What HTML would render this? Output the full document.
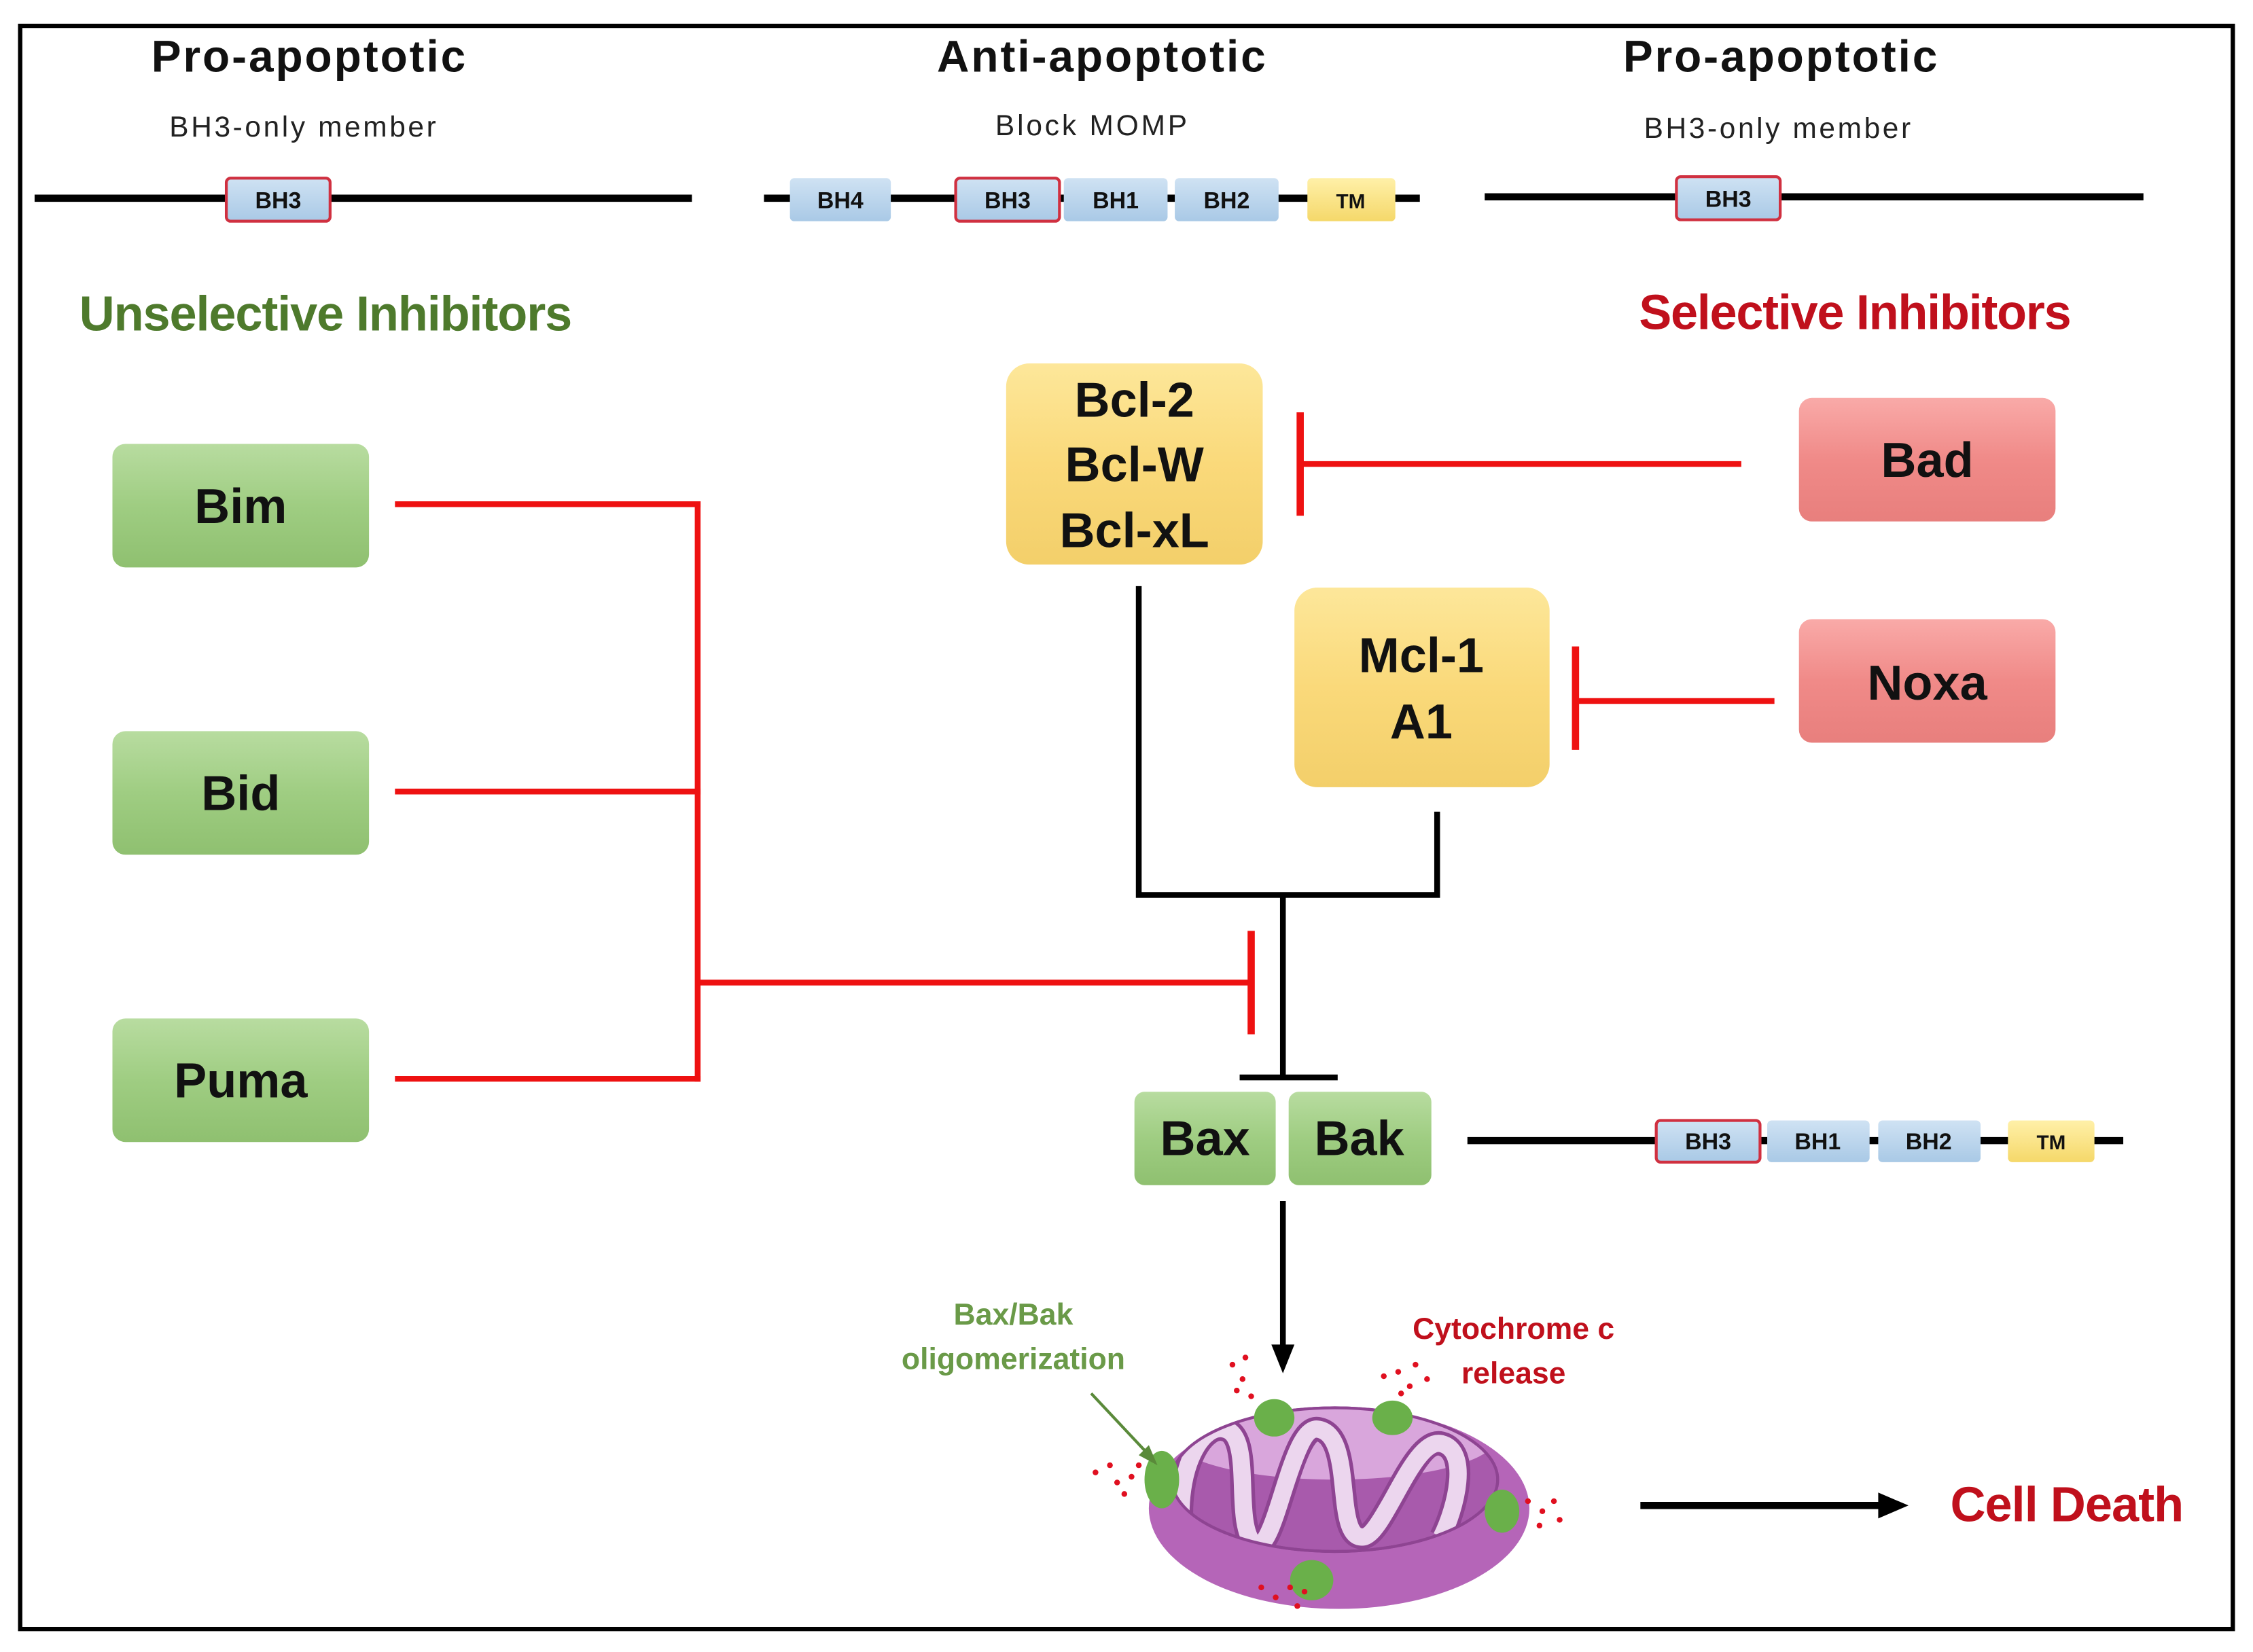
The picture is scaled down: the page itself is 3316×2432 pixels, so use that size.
<!DOCTYPE html>
<html><head><style>
html,body{margin:0;padding:0;background:#fff;}
svg{display:block;}
text{font-family:"Liberation Sans Narrow","Liberation Sans",sans-serif;font-weight:bold;}
</style></head><body>
<svg width="3316" height="2432" viewBox="0 0 1563 1150" preserveAspectRatio="none" xmlns="http://www.w3.org/2000/svg">
<defs>
<linearGradient id="g" x1="0" y1="0" x2="0" y2="1"><stop offset="0" stop-color="#b8dca0"/><stop offset="0.5" stop-color="#9fcd82"/><stop offset="1" stop-color="#8fc070"/></linearGradient>
<linearGradient id="y" x1="0" y1="0" x2="0" y2="1"><stop offset="0" stop-color="#fde79a"/><stop offset="0.5" stop-color="#fad97a"/><stop offset="1" stop-color="#f3cf6a"/></linearGradient>
<linearGradient id="r" x1="0" y1="0" x2="0" y2="1"><stop offset="0" stop-color="#f9aaa8"/><stop offset="0.5" stop-color="#f08a88"/><stop offset="1" stop-color="#e87f7d"/></linearGradient>
<linearGradient id="b" x1="0" y1="0" x2="0" y2="1"><stop offset="0" stop-color="#cfe2f3"/><stop offset="1" stop-color="#a9c9e6"/></linearGradient>
<linearGradient id="t" x1="0" y1="0" x2="0" y2="1"><stop offset="0" stop-color="#fff0a8"/><stop offset="1" stop-color="#f5d86a"/></linearGradient>
<clipPath id="ic"><ellipse cx="926" cy="1030" rx="113" ry="50"/></clipPath>
</defs>
<rect x="14" y="18" width="1535" height="1116" fill="#fff" stroke="#000" stroke-width="3"/>

<g text-anchor="middle">
<text x="214" y="50" font-size="31" fill="#111" textLength="218">Pro-apoptotic</text>
<text x="210" y="95" font-size="20" style="font-weight:normal" fill="#222" textLength="185">BH3-only member</text>
<text x="764" y="50" font-size="31" fill="#111" textLength="228">Anti-apoptotic</text>
<text x="757" y="94" font-size="20" style="font-weight:normal" fill="#222" textLength="133">Block MOMP</text>
<text x="1235" y="50" font-size="31" fill="#111" textLength="218">Pro-apoptotic</text>
<text x="1233" y="96" font-size="20" style="font-weight:normal" fill="#222" textLength="185">BH3-only member</text>
</g>

<g stroke="#000" stroke-width="5">
<line x1="24" y1="138" x2="480" y2="138"/>
<line x1="530" y1="138" x2="985" y2="138"/>
<line x1="1030" y1="137" x2="1487" y2="137"/>
<line x1="1018" y1="794" x2="1473" y2="794"/>
</g>

<g font-size="16" text-anchor="middle" fill="#111">
<rect x="157" y="124" width="72" height="30" rx="3" fill="url(#b)" stroke="#d03040" stroke-width="2"/><text x="193" y="145">BH3</text>
<rect x="548" y="124" width="70" height="30" rx="3" fill="url(#b)"/><text x="583" y="145">BH4</text>
<rect x="663" y="124" width="72" height="30" rx="3" fill="url(#b)" stroke="#d03040" stroke-width="2"/><text x="699" y="145">BH3</text>
<rect x="738" y="124" width="72" height="30" rx="3" fill="url(#b)"/><text x="774" y="145">BH1</text>
<rect x="815" y="124" width="72" height="30" rx="3" fill="url(#b)"/><text x="851" y="145">BH2</text>
<rect x="907" y="124" width="61" height="30" rx="3" fill="url(#t)"/><text x="937" y="145" font-size="14">TM</text>
<rect x="1163" y="123" width="72" height="30" rx="3" fill="url(#b)" stroke="#d03040" stroke-width="2"/><text x="1199" y="144">BH3</text>
<rect x="1149" y="780" width="72" height="29" rx="3" fill="url(#b)" stroke="#d03040" stroke-width="2"/><text x="1185" y="800">BH3</text>
<rect x="1226" y="780" width="71" height="29" rx="3" fill="url(#b)"/><text x="1261" y="800">BH1</text>
<rect x="1303" y="780" width="71" height="29" rx="3" fill="url(#b)"/><text x="1338" y="800">BH2</text>
<rect x="1393" y="780" width="60" height="29" rx="3" fill="url(#t)"/><text x="1423" y="800" font-size="14">TM</text>
</g>

<text x="55" y="230" font-size="34" fill="#4e7a2c" textLength="342">Unselective Inhibitors</text>
<text x="1137" y="229" font-size="34" fill="#c0101c" textLength="300">Selective Inhibitors</text>

<g font-size="34" text-anchor="middle" fill="#111">
<rect x="78" y="309" width="178" height="86" rx="9" fill="url(#g)"/><text x="167" y="364">Bim</text>
<rect x="78" y="509" width="178" height="86" rx="9" fill="url(#g)"/><text x="167" y="564">Bid</text>
<rect x="78" y="709" width="178" height="86" rx="9" fill="url(#g)"/><text x="167" y="764">Puma</text>
<rect x="698" y="253" width="178" height="140" rx="16" fill="url(#y)"/>
<text x="787" y="290">Bcl-2</text><text x="787" y="335">Bcl-W</text><text x="787" y="381">Bcl-xL</text>
<rect x="898" y="409" width="177" height="139" rx="16" fill="url(#y)"/>
<text x="986" y="468">Mcl-1</text><text x="986" y="514">A1</text>
<rect x="1248" y="277" width="178" height="86" rx="9" fill="url(#r)"/><text x="1337" y="332">Bad</text>
<rect x="1248" y="431" width="178" height="86" rx="9" fill="url(#r)"/><text x="1337" y="487">Noxa</text>
<rect x="787" y="760" width="98" height="65" rx="7" fill="url(#g)"/><text x="836" y="804">Bax</text>
<rect x="894" y="760" width="99" height="65" rx="7" fill="url(#g)"/><text x="943" y="804">Bak</text>
</g>

<g stroke="#ee1111" stroke-width="4" fill="none">
<line x1="274" y1="351" x2="486" y2="351"/>
<line x1="274" y1="551" x2="486" y2="551"/>
<line x1="274" y1="751" x2="486" y2="751"/>
<line x1="484" y1="349" x2="484" y2="753"/>
<line x1="484" y1="684" x2="868" y2="684"/>
<line x1="868" y1="648" x2="868" y2="720" stroke-width="5"/>
<line x1="902" y1="323" x2="1208" y2="323"/>
<line x1="902" y1="287" x2="902" y2="359" stroke-width="5"/>
<line x1="1093" y1="488" x2="1231" y2="488"/>
<line x1="1093" y1="450" x2="1093" y2="522" stroke-width="5"/>
</g>

<g stroke="#000" stroke-width="4" fill="none">
<polyline points="790,408 790,623 997,623 997,565"/>
<line x1="890" y1="623" x2="890" y2="750"/>
<line x1="860" y1="750" x2="928" y2="750"/>
<line x1="890" y1="836" x2="890" y2="938"/>
<line x1="1138" y1="1048" x2="1305" y2="1048" stroke-width="5"/>
</g>
<polygon points="882,936 898,936 890,956" fill="#000"/>
<polygon points="1303,1039 1324,1048 1303,1057" fill="#000"/>

<!-- mitochondrion -->
<ellipse cx="929" cy="1050" rx="132" ry="70" fill="#b565b8"/>
<ellipse cx="926" cy="1030" rx="113" ry="50" fill="#a85aac" stroke="#8e4492" stroke-width="2"/>
<g clip-path="url(#ic)">
<ellipse cx="926" cy="1000" rx="113" ry="30" fill="#d9a6dc"/>
<g fill="none" stroke="#8e4492" stroke-width="17" stroke-linejoin="round">
<path d="M820,1070 C815,1020 835,990 850,995 C870,1000 855,1060 870,1075 C885,1085 895,990 915,995 C940,1000 925,1070 945,1070 C960,1070 980,1000 1000,1005 C1020,1010 1010,1050 1000,1070"/>
</g>
<g fill="none" stroke="#ecd6ee" stroke-width="12" stroke-linejoin="round">
<path d="M820,1070 C815,1020 835,990 850,995 C870,1000 855,1060 870,1075 C885,1085 895,990 915,995 C940,1000 925,1070 945,1070 C960,1070 980,1000 1000,1005 C1020,1010 1010,1050 1000,1070"/>
</g>
</g>
<ellipse cx="926" cy="1030" rx="113" ry="50" fill="none" stroke="#8e4492" stroke-width="2"/>
<g fill="#6ab04a">
<ellipse cx="806" cy="1030" rx="12" ry="20"/>
<ellipse cx="884" cy="987" rx="14" ry="13"/>
<ellipse cx="966" cy="987" rx="14" ry="12"/>
<ellipse cx="1042" cy="1052" rx="12" ry="15"/>
<ellipse cx="910" cy="1100" rx="15" ry="14"/>
</g>
<g fill="#e01020">
<circle cx="855" cy="950" r="2"/><circle cx="862" cy="960" r="2"/><circle cx="858" cy="968" r="2"/><circle cx="868" cy="972" r="2"/><circle cx="864" cy="945" r="2"/>
<circle cx="960" cy="958" r="2"/><circle cx="970" cy="955" r="2"/><circle cx="978" cy="965" r="2"/><circle cx="990" cy="960" r="2"/><circle cx="982" cy="950" r="2"/><circle cx="972" cy="970" r="2"/>
<circle cx="760" cy="1025" r="2"/><circle cx="770" cy="1020" r="2"/><circle cx="775" cy="1032" r="2"/><circle cx="785" cy="1028" r="2"/><circle cx="780" cy="1040" r="2"/><circle cx="790" cy="1020" r="2"/>
<circle cx="1060" cy="1045" r="2"/><circle cx="1070" cy="1052" r="2"/><circle cx="1078" cy="1045" r="2"/><circle cx="1082" cy="1058" r="2"/><circle cx="1068" cy="1062" r="2"/>
<circle cx="875" cy="1105" r="2"/><circle cx="885" cy="1112" r="2"/><circle cx="895" cy="1105" r="2"/><circle cx="900" cy="1118" r="2"/><circle cx="905" cy="1108" r="2"/>
</g>
<line x1="757" y1="970" x2="800" y2="1016" stroke="#5a8a3a" stroke-width="2"/>
<polygon points="803,1020 790,1013 797,1006" fill="#5a8a3a"/>

<g text-anchor="middle" font-size="21">
<text x="703" y="922" fill="#6a9a48">Bax/Bak</text>
<text x="703" y="953" fill="#6a9a48">oligomerization</text>
<text x="1050" y="932" fill="#c0101c">Cytochrome c</text>
<text x="1050" y="963" fill="#c0101c">release</text>
</g>
<text x="1353" y="1059" font-size="34" fill="#c0101c" textLength="162">Cell Death</text>
</svg>
</body></html>
